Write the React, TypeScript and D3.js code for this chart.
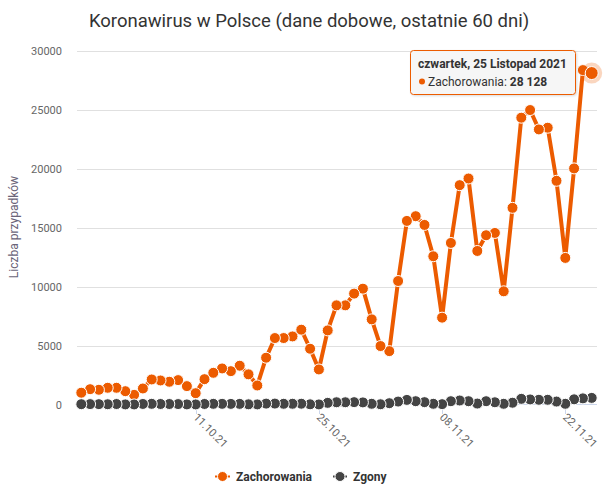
import React from "react";
import * as d3 from "d3";

const startDate = new Date(2021, 8, 28);
const cases = [
  1000, 1300, 1250, 1420, 1420, 1130, 820, 1360, 2125, 2040,
  1930, 2070, 1560, 960, 2150, 2690, 3060, 2830, 3290, 2560,
  1615, 3970, 5640, 5640, 5780, 6350, 4730, 2975, 6290, 8415,
  8415, 9410, 9830, 7225, 4960, 4530, 10480, 15580, 15980, 15240,
  12580, 7370, 13710, 18615, 19180, 13030, 14365, 14560, 9605, 16690,
  24340, 24990, 23345, 23490, 18985, 12440, 20035, 28380, 28128,
];
const deaths = [
  26, 34, 30, 22, 40, 9, 4, 46, 57, 43,
  41, 37, 8, 7, 46, 58, 57, 51, 52, 16,
  9, 75, 79, 62, 63, 66, 17, 7, 140, 190,
  190, 200, 180, 60, 20, 110, 250, 390, 280, 200,
  60, 30, 280, 340, 280, 80, 280, 190, 60, 150,
  480, 430, 400, 400, 250, 60, 440, 520, 560,
];
const yTicks = [0, 5000, 10000, 15000, 20000, 25000, 30000];
const xTickDates = [new Date(2021, 9, 11), new Date(2021, 9, 25), new Date(2021, 10, 8), new Date(2021, 10, 22)];
const seriesNames = ["Zachorowania", "Zgony"];
const tooltipTitle = "czwartek, 25 Listopad 2021";
const tooltipValue = "28 128";

const ORANGE = "#ec5b00";
const GRAY = "#444444";
const FONT = "Roboto, sans-serif";

const dates = cases.map((_, i) => d3.timeDay.offset(startDate, i));

export default function App() {
  const x = d3.scaleTime().domain([dates[0], dates[dates.length - 1]]).range([81.3, 591.7]);
  const y = d3.scaleLinear().domain([0, 30000]).range([404.5, 51]);
  const plotLeft = 77;
  const plotRight = 597;
  const R = 5.5;

  const line = d3
    .line<number>()
    .x((_, i) => x(dates[i]))
    .y((d) => y(d));

  const caseIdx = cases.map((_, i) => i).reverse();
  const last = cases.length - 1;
  const fmt = d3.timeFormat("%d.%m.%y");

  return (
    <svg
      width={614}
      height={492}
      style={{ position: "absolute", left: 0, top: 0, background: "#fff", fontFamily: FONT }}
    >
      <defs>
        <filter id="shadow" x="-10%" y="-10%" width="130%" height="140%">
          <feDropShadow dx="1" dy="1" stdDeviation="1.2" floodColor="#000" floodOpacity="0.15" />
        </filter>
      </defs>
      <text x={309} y={27} textAnchor="middle" fontSize={18.5} fill="#333333">
        Koronawirus w Polsce (dane dobowe, ostatnie 60 dni)
      </text>

      {yTicks.map((t) => (
        <g key={t}>
          {t > 0 && (
            <line x1={plotLeft} x2={plotRight} y1={Math.round(y(t)) + 0.5} y2={Math.round(y(t)) + 0.5} stroke="#e0e0e0" strokeWidth={1} />
          )}
          <text x={62} y={y(t) + 4} textAnchor="end" fontSize={11} fill="#666666">
            {t}
          </text>
        </g>
      ))}
      <line x1={plotLeft} x2={plotRight} y1={404.5} y2={404.5} stroke="#ccd6eb" strokeWidth={1} />
      {xTickDates.map((d) => (
        <g key={+d}>
          <line x1={Math.round(x(d)) + 0.5} x2={Math.round(x(d)) + 0.5} y1={404.5} y2={414} stroke="#ccd6eb" />
          <text
            transform={`translate(${x(d) - 3},${418}) rotate(45)`}
            textAnchor="start"
            fontSize={11}
            fill="#666666"
          >
            {fmt(d)}
          </text>
        </g>
      ))}

      <text transform="translate(18,227) rotate(-90)" textAnchor="middle" fontSize={12} fill="#6a6478">
        Liczba przypadków
      </text>

      <path d={line(cases) || ""} fill="none" stroke={ORANGE} strokeWidth={4} strokeLinejoin="round" strokeLinecap="round" />
      {caseIdx.map((i) =>
        i === last ? null : (
          <circle key={i} cx={x(dates[i])} cy={y(cases[i])} r={R} fill={ORANGE} stroke="#fff" strokeWidth={1} />
        )
      )}
      <circle cx={x(dates[last])} cy={y(cases[last])} r={10.5} fill={ORANGE} opacity={0.25} />
      <circle cx={x(dates[last])} cy={y(cases[last])} r={6.5} fill={ORANGE} stroke="#fff" strokeWidth={1} />

      <path d={line(deaths) || ""} fill="none" stroke={GRAY} strokeWidth={4} strokeLinejoin="round" />
      {caseIdx.map((i) => (
        <circle key={i} cx={x(dates[i])} cy={y(deaths[i])} r={R} fill={GRAY} stroke="#fff" strokeWidth={1} />
      ))}

      <g filter="url(#shadow)">
        <rect x={410.5} y={50.5} width={165} height={44} rx={3} fill="rgba(247,247,247,0.9)" stroke={ORANGE} strokeWidth={1} />
      </g>
      <text x={418} y={67.5} fontSize={12} fontWeight="bold" fill="#333333">
        {tooltipTitle}
      </text>
      <circle cx={422} cy={81.5} r={3} fill={ORANGE} />
      <text x={428} y={85.5} fontSize={12} fill="#333333">
        {seriesNames[0]}: <tspan fontWeight="bold">{tooltipValue}</tspan>
      </text>

      <g>
        <line x1={215} x2={230} y1={476.5} y2={476.5} stroke={ORANGE} strokeWidth={2} />
        <circle cx={222.5} cy={476.5} r={5} fill={ORANGE} stroke="#fff" strokeWidth={1} />
        <text x={236} y={481} fontSize={12} fontWeight="bold" fill="#333333">
          {seriesNames[0]}
        </text>
        <line x1={333} x2={347} y1={476.5} y2={476.5} stroke={GRAY} strokeWidth={2} />
        <circle cx={340} cy={476.5} r={5} fill={GRAY} stroke="#fff" strokeWidth={1} />
        <text x={353} y={481} fontSize={12} fontWeight="bold" fill="#333333">
          {seriesNames[1]}
        </text>
      </g>
    </svg>
  );
}
